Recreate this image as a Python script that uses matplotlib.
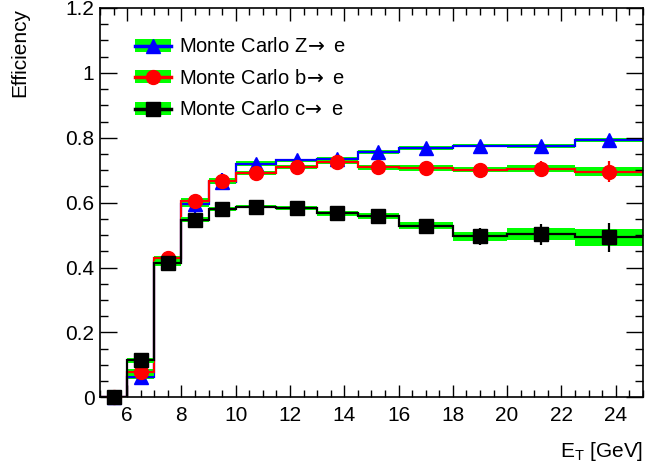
import numpy as np
import matplotlib
matplotlib.use("Agg")
import matplotlib.pyplot as plt
from matplotlib.patches import Patch
from matplotlib.lines import Line2D
from matplotlib.ticker import MultipleLocator, FuncFormatter

plt.rcParams['font.family'] = ['Liberation Sans', 'DejaVu Sans']
plt.rcParams['mathtext.fontset'] = 'dejavusans'

# ---- data ----
bin_edges = [5, 6, 7, 8, 9, 10, 11.5, 13, 14.5, 16, 18, 20, 22.5, 25]

eff_Z = [0.0, 0.064, 0.420, 0.595, 0.665, 0.720, 0.730, 0.736, 0.756, 0.768, 0.776, 0.774, 0.792]
stat_Z = [0.0, 0.015, 0.015, 0.026, 0.027, 0.015, 0.012, 0.012, 0.010, 0.008, 0.008, 0.008, 0.008]
band_Z = [0.003, 0.008, 0.008, 0.008, 0.008, 0.007, 0.006, 0.006, 0.006, 0.006, 0.006, 0.006, 0.006]

eff_b = [0.0, 0.077, 0.428, 0.606, 0.668, 0.692, 0.709, 0.726, 0.709, 0.707, 0.702, 0.704, 0.695]
stat_b = [0.0, 0.020, 0.020, 0.020, 0.020, 0.012, 0.012, 0.012, 0.014, 0.016, 0.018, 0.023, 0.032]
band_b = [0.003, 0.010, 0.008, 0.008, 0.008, 0.006, 0.006, 0.006, 0.007, 0.008, 0.009, 0.011, 0.014]

eff_c = [0.0, 0.114, 0.413, 0.548, 0.581, 0.588, 0.583, 0.567, 0.560, 0.529, 0.496, 0.503, 0.493]
stat_c = [0.0, 0.020, 0.020, 0.020, 0.015, 0.012, 0.012, 0.014, 0.016, 0.020, 0.026, 0.032, 0.044]
band_c = [0.003, 0.008, 0.008, 0.008, 0.007, 0.006, 0.006, 0.007, 0.009, 0.011, 0.015, 0.019, 0.026]

labels = [r"Monte Carlo Z$\!\rightarrow$ e", r"Monte Carlo b$\!\rightarrow$ e",
          r"Monte Carlo c$\!\rightarrow$ e"]
colors = ["#0000ff", "#ff0000", "#000000"]
markers = ["^", "o", "s"]

fig = plt.figure(figsize=(6.71, 4.68), dpi=100)
ax = fig.add_axes([0.149, 0.151, 0.809, 0.832])

edges = np.array(bin_edges)
centers = 0.5 * (edges[:-1] + edges[1:])
band_color = "#00ff00"

handles = []
for eff, stat, band, col, mk in zip([eff_Z, eff_b, eff_c], [stat_Z, stat_b, stat_c],
                                    [band_Z, band_b, band_c], colors, markers):
    eff = np.array(eff); band = np.array(band); stat = np.array(stat)
    ax.stairs(eff + band, edges, baseline=eff - band, fill=True, color=band_color, lw=0)
    ax.stairs(eff, edges, baseline=None, color=col, lw=1.6)
    ax.errorbar(centers, eff, yerr=stat, fmt='none', ecolor=col, elinewidth=1.6, capsize=0)
    ax.plot(centers, eff, ls='none', marker=mk, ms=10, color=col, mec=col, clip_on=False, zorder=5)
    handles.append((Patch(facecolor=band_color, edgecolor='none'),
                    Line2D([], [], color=col, lw=2.5, marker=mk, ms=10, mec=col)))

ax.set_xlim(5, 25)
ax.set_ylim(0, 1.2)
ax.xaxis.set_major_locator(MultipleLocator(2))
ax.xaxis.set_minor_locator(MultipleLocator(0.5))
ax.yaxis.set_major_locator(MultipleLocator(0.2))
ax.yaxis.set_minor_locator(MultipleLocator(0.05))

def fmt(v, p):
    s = f"{v:.1f}"
    if s.endswith(".0"):
        s = s[:-2]
    return s
ax.yaxis.set_major_formatter(FuncFormatter(fmt))

ax.tick_params(which='both', direction='in', top=True, right=True, labelsize=15, width=1)
ax.tick_params(which='major', axis='y', length=12, pad=4)
ax.tick_params(which='minor', axis='y', length=6)
ax.tick_params(which='major', axis='x', length=9, pad=6)
ax.tick_params(which='minor', axis='x', length=5)
for s in ax.spines.values():
    s.set_linewidth(1.2)

ax.set_ylabel("Efficiency", fontsize=15, loc='top', labelpad=26)
ax.set_xlabel(r"$\mathregular{E_T}$ [GeV]", fontsize=15, loc='right', labelpad=11)

ax.legend(handles, labels, loc='upper left', bbox_to_anchor=(0.05, 0.945), frameon=False,
          fontsize=14.5, handlelength=1.8, handleheight=0.6, labelspacing=0.62,
          handletextpad=0.4, borderaxespad=0)

fig.savefig("out.png", dpi=100)
